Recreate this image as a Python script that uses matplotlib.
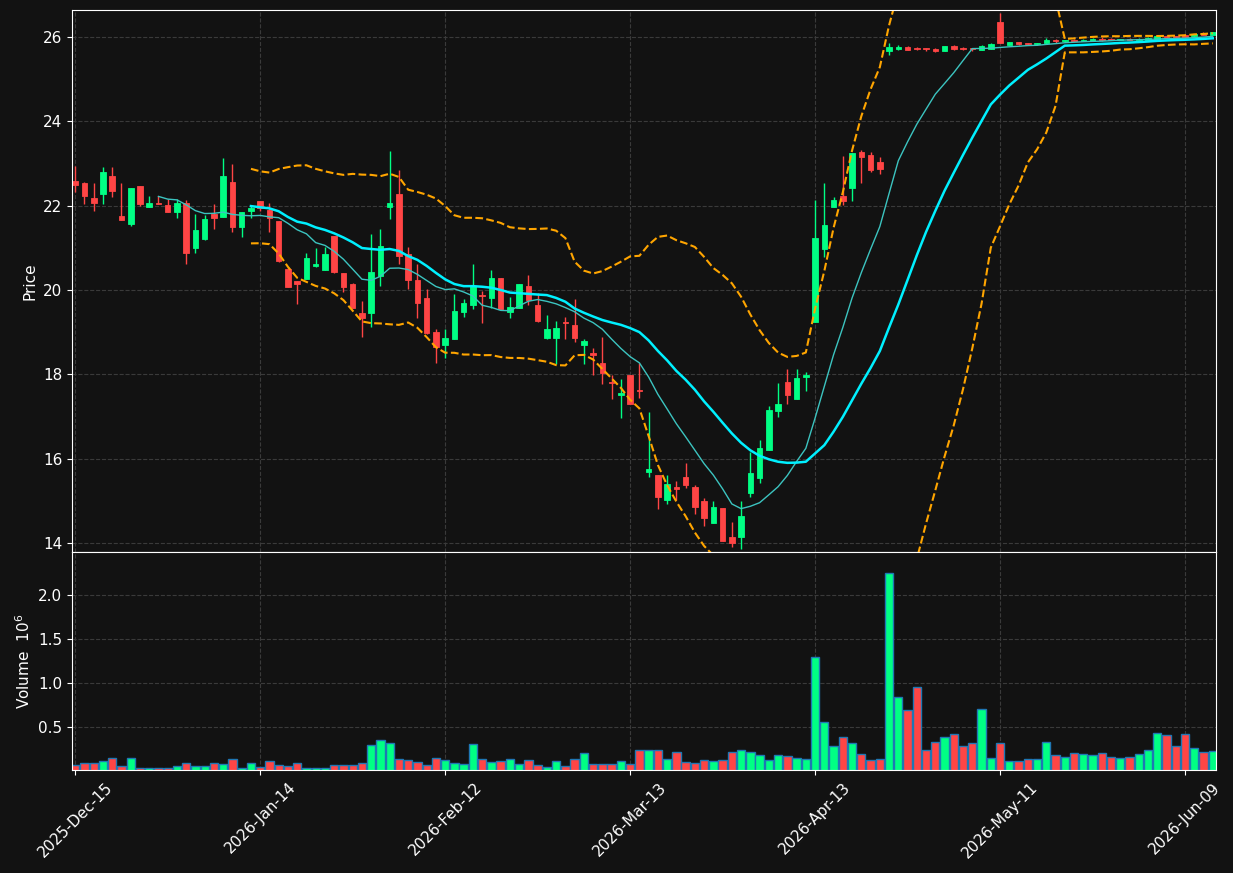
import numpy as np
import pandas as pd
import matplotlib
matplotlib.use('Agg')
import matplotlib.pyplot as plt
from matplotlib.ticker import FuncFormatter, MultipleLocator

# trading days (NYSE calendar)
holidays = ['2025-12-25', '2026-01-01', '2026-01-19', '2026-02-16', '2026-04-03', '2026-05-25']
dates = pd.bdate_range('2025-12-15', periods=124, freq='C', holidays=holidays)

opens = [22.59, 22.54, 22.18, 22.29, 22.70, 21.76, 21.57, 22.47, 21.98, 22.07,
         22.02, 21.86, 22.06, 21.00, 21.21, 21.80, 21.74, 22.56, 21.50, 21.88,
         22.11, 21.90, 21.64, 20.50, 20.21, 20.26, 20.57, 20.47, 21.28, 20.40,
         20.14, 19.46, 19.46, 20.34, 21.98, 22.28, 20.85, 20.24, 19.81, 19.00,
         18.69, 18.84, 19.49, 19.64, 19.89, 19.82, 20.29, 19.49, 19.58, 20.09,
         19.64, 18.86, 18.86, 19.25, 19.17, 18.70, 18.50, 18.27, 17.83, 17.51,
         17.98, 17.63, 15.69, 15.61, 15.02, 15.34, 15.57, 15.33, 14.99, 14.48,
         14.83, 14.14, 14.15, 15.19, 15.55, 16.21, 17.14, 17.82, 17.42, 17.94,
         19.25, 20.98, 21.96, 22.24, 22.42, 23.27, 23.20, 23.04, 25.67, 25.71,
         25.76, 25.74, 25.74, 25.72, 25.67, 25.79, 25.74, 25.73, 25.70, 25.72,
         26.36, 25.82, 25.88, 25.86, 25.83, 25.85, 25.92, 25.90, 25.94, 25.91,
         25.91, 25.96, 25.96, 25.93, 25.96, 25.94, 25.94, 25.96, 26.02, 26.02,
         26.06, 26.02, 26.10, 26.05]
highs = [22.95, 22.56, 22.55, 22.93, 22.91, 22.55, 22.41, 22.47, 22.22, 22.23,
         22.17, 22.15, 22.13, 21.80, 21.77, 22.03, 23.13, 22.99, 21.85, 22.02,
         22.12, 22.06, 21.64, 20.55, 20.21, 20.89, 20.99, 21.03, 21.28, 20.40,
         20.16, 19.73, 21.34, 21.46, 23.30, 22.85, 21.03, 20.62, 20.02, 19.08,
         19.08, 19.90, 19.79, 20.61, 19.98, 20.47, 20.29, 19.84, 20.14, 20.35,
         19.92, 19.40, 19.26, 19.37, 19.79, 18.83, 18.62, 18.88, 17.98, 17.88,
         17.98, 18.26, 17.10, 15.61, 15.61, 15.48, 15.91, 15.39, 15.08, 14.99,
         14.83, 14.50, 14.99, 16.15, 16.44, 17.26, 17.79, 18.14, 18.14, 18.05,
         22.13, 22.55, 22.20, 23.19, 23.25, 23.31, 23.27, 23.15, 25.86, 25.80,
         25.78, 25.76, 25.74, 25.74, 25.79, 25.81, 25.76, 25.75, 25.80, 25.86,
         26.57, 25.88, 25.89, 25.87, 25.87, 25.98, 25.95, 25.94, 25.95, 25.95,
         25.97, 25.99, 25.97, 25.96, 25.97, 25.97, 25.99, 26.04, 26.04, 26.03,
         26.07, 26.08, 26.12, 26.12]
lows = [22.33, 22.03, 21.88, 22.05, 22.20, 21.67, 21.53, 22.00, 21.98, 22.05,
        21.86, 21.72, 20.61, 20.89, 21.19, 21.44, 21.74, 21.37, 21.25, 21.72,
        21.88, 21.37, 20.66, 20.08, 19.68, 20.26, 20.54, 20.47, 20.40, 19.96,
        19.58, 18.89, 19.13, 20.10, 21.68, 20.61, 20.02, 19.33, 18.97, 18.26,
        18.38, 18.84, 19.37, 19.56, 19.21, 19.58, 19.55, 19.33, 19.58, 19.64,
        19.25, 18.83, 18.25, 18.83, 18.77, 18.24, 17.98, 17.77, 17.41, 16.96,
        17.31, 17.45, 15.56, 14.80, 14.92, 15.02, 15.31, 14.68, 14.41, 14.48,
        14.06, 13.91, 13.87, 15.10, 15.43, 16.21, 16.98, 17.31, 17.42, 17.61,
        19.25, 20.79, 21.96, 22.02, 22.12, 22.55, 22.79, 22.76, 25.58, 25.69,
        25.69, 25.70, 25.68, 25.64, 25.66, 25.70, 25.69, 25.68, 25.69, 25.71,
        25.87, 25.82, 25.82, 25.82, 25.82, 25.84, 25.87, 25.89, 25.90, 25.90,
        25.90, 25.91, 25.92, 25.92, 25.93, 25.93, 25.93, 25.95, 25.99, 25.98,
        25.99, 26.01, 26.05, 26.04]
closes = [22.50, 22.24, 22.07, 22.80, 22.36, 21.67, 22.41, 22.05, 22.06, 22.05,
          21.86, 22.06, 20.89, 21.42, 21.68, 21.72, 22.70, 21.50, 21.85, 21.94,
          21.94, 21.72, 20.70, 20.08, 20.15, 20.76, 20.61, 20.85, 20.43, 20.08,
          19.58, 19.34, 20.43, 21.04, 22.06, 20.81, 20.25, 19.70, 18.99, 18.65,
          18.86, 19.50, 19.69, 20.09, 19.87, 20.29, 19.55, 19.61, 20.14, 19.76,
          19.26, 19.07, 19.10, 19.21, 18.87, 18.79, 18.47, 18.04, 17.80, 17.56,
          17.31, 17.60, 15.75, 15.10, 15.40, 15.28, 15.38, 14.86, 14.60, 14.85,
          14.06, 14.01, 14.64, 15.66, 16.25, 17.15, 17.30, 17.52, 17.91, 17.98,
          21.23, 21.54, 22.14, 22.12, 23.25, 23.15, 22.85, 22.88, 25.76, 25.76,
          25.70, 25.72, 25.71, 25.67, 25.79, 25.72, 25.72, 25.71, 25.79, 25.83,
          25.87, 25.88, 25.83, 25.83, 25.86, 25.93, 25.90, 25.93, 25.91, 25.94,
          25.96, 25.94, 25.93, 25.95, 25.94, 25.96, 25.98, 26.02, 26.00, 26.00,
          26.01, 26.07, 26.06, 26.11]
volumes = [71000, 94000, 94000, 117000, 147000, 56000, 147000, 41000, 41000, 41000,
           34000, 56000, 94000, 56000, 56000, 94000, 79000, 136000, 41000, 94000,
           45000, 117000, 71000, 56000, 94000, 41000, 41000, 41000, 68000, 68000,
           68000, 94000, 299000, 352000, 318000, 140000, 128000, 106000, 68000, 147000,
           125000, 94000, 79000, 306000, 136000, 102000, 113000, 136000, 79000, 125000,
           68000, 53000, 113000, 56000, 136000, 204000, 79000, 79000, 79000, 113000,
           79000, 238000, 238000, 238000, 136000, 215000, 102000, 94000, 125000, 113000,
           125000, 215000, 238000, 215000, 181000, 125000, 181000, 170000, 147000, 136000,
           1303000, 556000, 284000, 386000, 318000, 193000, 125000, 136000, 2249000, 840000,
           693000, 954000, 238000, 329000, 386000, 420000, 284000, 318000, 704000, 147000,
           318000, 113000, 113000, 136000, 136000, 329000, 181000, 159000, 204000, 193000,
           181000, 204000, 159000, 147000, 159000, 193000, 238000, 431000, 409000, 284000,
           420000, 261000, 215000, 227000]

df = pd.DataFrame({'Open': opens, 'High': highs, 'Low': lows,
                   'Close': closes, 'Volume': volumes}, index=dates)

# moving averages and bollinger bands
df['mav10'] = df['Close'].rolling(10).mean()
df['mav20'] = df['Close'].rolling(20).mean()
std20 = df['Close'].rolling(20).std(ddof=0)
df['upper'] = df['mav20'] + 2 * std20
df['lower'] = df['mav20'] - 2 * std20

bg = '#121212'
up = '#00ff84'
down = '#ff4545'
txt = 'white'
gridc = '#3a3a3a'

fig = plt.figure(figsize=(12.33, 8.73), dpi=100, facecolor=bg)
ax = fig.add_axes([0.0584, 0.3677, 0.9278, 0.6208])
axv = fig.add_axes([0.0584, 0.118, 0.9278, 0.2497], sharex=ax)

x = np.arange(len(df))
colors = np.where(df['Close'] >= df['Open'], up, down)

# candles
ax.vlines(x, df['Low'], df['High'], colors=colors, linewidth=1)
body_bottom = np.minimum(df['Open'], df['Close'])
body_h = np.abs(df['Close'] - df['Open'])
ax.bar(x, body_h, bottom=body_bottom, width=0.6, color=colors,
       edgecolor=colors, linewidth=0.6)

# indicators
ax.plot(x, df['mav10'], color='#3cc4c0', linewidth=1.0)
ax.plot(x, df['mav20'], color='#00f0ff', linewidth=1.8)
ax.plot(x, df['upper'], color='#ffa500', linewidth=1.5, linestyle='--')
ax.plot(x, df['lower'], color='#ffa500', linewidth=1.5, linestyle='--')

# volume
axv.bar(x, df['Volume'], width=0.9, color=colors, edgecolor='#1f77b4', linewidth=1)

ax.set_xlim(-0.35, len(df) - 1 + 0.35)
ax.set_ylim(13.79, 26.64)
ax.yaxis.set_major_locator(MultipleLocator(2))
axv.set_ylim(15000, 2490000)
axv.yaxis.set_major_locator(MultipleLocator(500000))
axv.yaxis.set_major_formatter(FuncFormatter(lambda v, p: f'{v / 1e6:.1f}'))

tick_pos = list(range(0, len(df), 20))
axv.set_xticks(tick_pos)
axv.set_xticklabels([dates[i].strftime('%Y-%b-%d') for i in tick_pos],
                    rotation=45, ha='center', fontsize=11, color=txt)
ax.tick_params(axis='x', labelbottom=False, length=0)

ax.set_ylabel('Price', color=txt, fontsize=11)
axv.set_ylabel('Volume  $10^{6}$', color=txt, fontsize=11)

for a in (ax, axv):
    a.set_facecolor(bg)
    a.grid(True, linestyle='--', color=gridc, linewidth=0.8)
    a.set_axisbelow(True)
    a.tick_params(axis='y', colors=txt, labelsize=11)
    a.tick_params(axis='x', colors=txt)
    for s in a.spines.values():
        s.set_color('white')

fig.savefig('out.png', dpi=100, facecolor=bg)
